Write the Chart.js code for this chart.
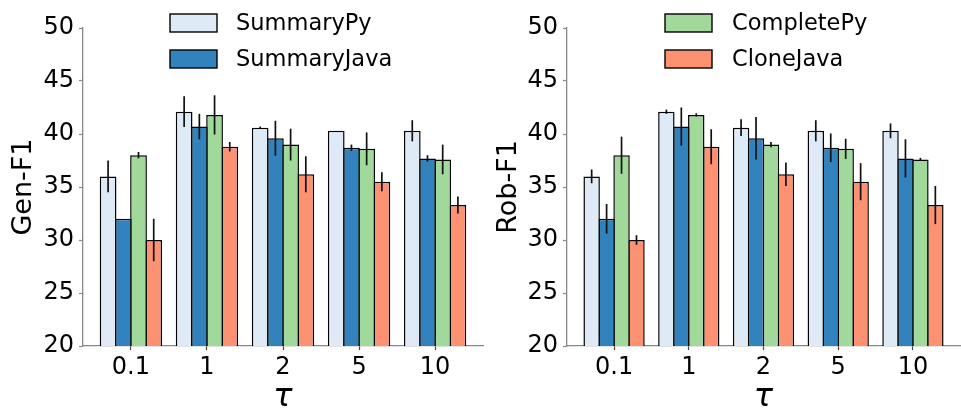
<!DOCTYPE html>
<html>
<head>
<meta charset="utf-8">
<script src="https://cdn.jsdelivr.net/npm/chart.js@4.4.1/dist/chart.umd.min.js"></script>
<style>
  html, body { margin: 0; padding: 0; background: #fff; }
  #wrap { position: relative; width: 961px; height: 409px; overflow: hidden; }
  canvas { position: absolute; top: 0; }
</style>
</head>
<body>
<div id="wrap">
  <canvas id="left" width="485" height="409" style="left:0px"></canvas>
  <canvas id="right" width="476" height="409" style="left:485px"></canvas>
</div>
<script>
// ---- data ----
const tauLabels = ['0.1', '1', '2', '5', '10'];
const seriesNames = ['SummaryPy', 'SummaryJava', 'CompletePy', 'CloneJava'];
const seriesColors = ['#deebf7', '#3182bd', '#a1d99b', '#fc9272'];

const summaryPy   = [36.0, 42.1, 40.6, 40.3, 40.3];
const summaryJava = [32.0, 40.7, 39.6, 38.7, 37.7];
const completePy  = [38.0, 41.8, 39.0, 38.6, 37.6];
const cloneJava   = [30.0, 38.8, 36.2, 35.5, 33.3];

// error half-widths, Gen-F1 panel
const genErrSummaryPy   = [1.5, 1.45, 0.1, 0.0, 1.0];
const genErrSummaryJava = [0.0, 1.2, 1.65, 0.3, 0.3];
const genErrCompletePy  = [0.3, 1.85, 1.5, 1.55, 1.4];
const genErrCloneJava   = [2.0, 0.45, 1.7, 0.9, 0.8];

// error half-widths, Rob-F1 panel
const robErrSummaryPy   = [0.65, 0.2, 0.8, 1.0, 0.7];
const robErrSummaryJava = [1.4, 1.8, 2.0, 1.35, 1.8];
const robErrCompletePy  = [1.75, 0.15, 0.25, 0.95, 0.15];
const robErrCloneJava   = [0.45, 1.65, 1.1, 1.75, 1.8];

const yTicksMin = 20, yTicksMax = 50, yTickStep = 5;

// ---- rendering ----
const FAMILY = '"DejaVu Sans", sans-serif';

const errorBarPlugin = {
  id: 'errorBars',
  afterDatasetsDraw(chart) {
    const ctx = chart.ctx;
    const ys = chart.scales.y;
    ctx.save();
    ctx.strokeStyle = '#111';
    ctx.lineWidth = 1.7;
    chart.data.datasets.forEach((ds, di) => {
      const meta = chart.getDatasetMeta(di);
      meta.data.forEach((bar, i) => {
        const e = ds.errors[i];
        if (!e) return;
        const m = ds.data[i].y;
        ctx.beginPath();
        ctx.moveTo(bar.x, ys.getPixelForValue(m + e));
        ctx.lineTo(bar.x, ys.getPixelForValue(m - e));
        ctx.stroke();
      });
    });
    ctx.restore();
  }
};

const customLegendPlugin = {
  id: 'customLegend',
  afterDraw(chart, args, opts) {
    const ctx = chart.ctx;
    ctx.save();
    ctx.font = opts.fontSize + 'px ' + FAMILY;
    ctx.textBaseline = 'middle';
    ctx.textAlign = 'left';
    opts.items.forEach((di, k) => {
      const ds = chart.data.datasets[di];
      const cy = opts.rowY[k];
      ctx.fillStyle = ds.backgroundColor;
      ctx.fillRect(opts.boxX, cy - opts.boxH / 2, opts.boxW, opts.boxH);
      ctx.strokeStyle = '#000';
      ctx.lineWidth = 1.4;
      ctx.strokeRect(opts.boxX, cy - opts.boxH / 2, opts.boxW, opts.boxH);
      ctx.fillStyle = '#000';
      ctx.fillText(ds.label, opts.textX, cy + 1);
    });
    ctx.restore();
  }
};

function makeChart(id, yTitle, errs, legendItems, boxX, textX, padRight, yWidth) {
  const values = [summaryPy, summaryJava, completePy, cloneJava];
  const datasets = values.map((vals, s) => ({
    label: seriesNames[s],
    data: vals.map((v, i) => ({ x: i, y: v })),
    errors: errs[s],
    backgroundColor: seriesColors[s],
    borderColor: '#000',
    borderWidth: 1.5,
    borderSkipped: false,
    categoryPercentage: 0.8,
    barPercentage: 1.1
  }));
  return new Chart(document.getElementById(id), {
    type: 'bar',
    data: { datasets },
    plugins: [errorBarPlugin, customLegendPlugin],
    options: {
      responsive: false,
      animation: false,
      devicePixelRatio: 1,
      layout: { padding: { top: 28, right: padRight, left: 0, bottom: 0 } },
      plugins: {
        legend: { display: false },
        tooltip: { enabled: false },
        customLegend: {
          items: legendItems, boxX: boxX, textX: textX,
          boxW: 47, boxH: 18, rowY: [23, 59], fontSize: 22.5
        }
      },
      scales: {
        x: {
          type: 'linear',
          offset: false,
          min: -0.63,
          max: 4.63,
          afterBuildTicks: (s) => { s.ticks = tauLabels.map((_, i) => ({ value: i })); },
          afterFit: (s) => { s.height = 63; },
          ticks: {
            callback: (v) => tauLabels[v],
            font: { size: 24, family: FAMILY },
            color: '#000',
            padding: 3,
            maxRotation: 0,
            autoSkip: false
          },
          grid: { offset: false, drawOnChartArea: false, drawTicks: true, tickLength: 4, tickColor: '#444', tickWidth: 1.2 },
          border: { color: '#888', width: 1.3 },
          title: {
            display: true, text: 'τ', color: '#000',
            font: { size: 32, style: 'italic', family: FAMILY, lineHeight: 0.7 },
            padding: 0
          }
        },
        y: {
          min: yTicksMin,
          max: yTicksMax,
          afterFit: (s) => { s.width = yWidth; },
          ticks: {
            stepSize: yTickStep,
            font: { size: 24, family: FAMILY },
            color: '#000',
            padding: 5
          },
          grid: { drawOnChartArea: false, drawTicks: true, tickLength: 4, tickColor: '#888', tickWidth: 1.2 },
          border: { color: '#888', width: 1.3 },
          title: {
            display: true, text: yTitle, color: '#000',
            font: { size: 27, family: FAMILY, lineHeight: 1.2 },
            padding: { top: 8, bottom: 0 }
          }
        }
      }
    }
  });
}

makeChart('left', 'Gen-F1',
  [genErrSummaryPy, genErrSummaryJava, genErrCompletePy, genErrCloneJava],
  [0, 1], 170, 236, 2, 83);
makeChart('right', 'Rob-F1',
  [robErrSummaryPy, robErrSummaryJava, robErrCompletePy, robErrCloneJava],
  [2, 3], 180, 247, 1, 82);
</script>
</body>
</html>
